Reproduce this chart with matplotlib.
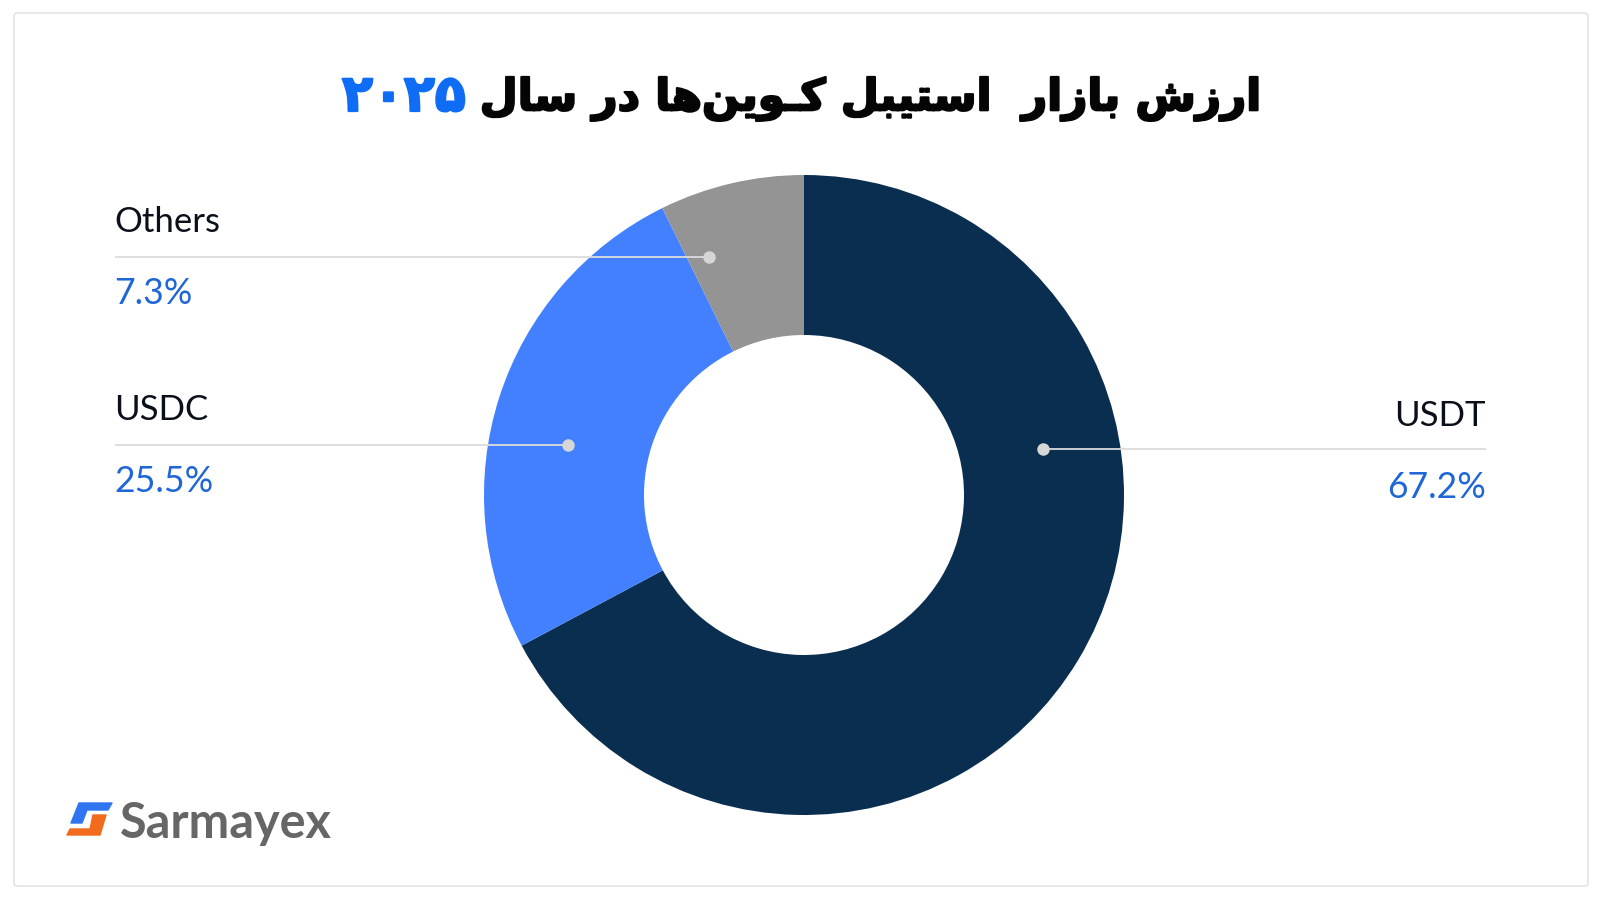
import matplotlib.pyplot as plt
import matplotlib.patheffects as pe
from matplotlib.patches import FancyBboxPatch, Polygon

#chart data
labels = ['USDT', 'USDC', 'Others']
shares = [67.2, 25.5, 7.3]
colors = ['#0A2E4F', '#4280FF', '#949494']
pct_text = ['67.2%', '25.5%', '7.3%']
title_text = 'ارزش بازار  استیبل کـوین\u200cها در سال'
title_year = '۲۰۲۵'

#arabic letter forms: isolated, final, initial, medial
#matplotlib does no shaping so the forms have to be picked by hand
forms = {
    'ا': (0xFE8D, 0xFE8E), 'د': (0xFEA9, 0xFEAA), 'ر': (0xFEAD, 0xFEAE),
    'ز': (0xFEAF, 0xFEB0), 'و': (0xFEED, 0xFEEE),
    'ب': (0xFE8F, 0xFE90, 0xFE91, 0xFE92), 'ت': (0xFE95, 0xFE96, 0xFE97, 0xFE98),
    'س': (0xFEB1, 0xFEB2, 0xFEB3, 0xFEB4), 'ش': (0xFEB5, 0xFEB6, 0xFEB7, 0xFEB8),
    'ل': (0xFEDD, 0xFEDE, 0xFEDF, 0xFEE0), 'ن': (0xFEE5, 0xFEE6, 0xFEE7, 0xFEE8),
    'ه': (0xFEE9, 0xFEEA, 0xFEEB, 0xFEEC), 'ک': (0xFB8E, 0xFB8F, 0xFB90, 0xFB91),
    'ی': (0xFBFC, 0xFBFD, 0xFBFE, 0xFBFF), 'ـ': (0x640, 0x640, 0x640, 0x640),
}


def shape(text):
    out = []
    for i, ch in enumerate(text):
        if ch not in forms:
            if ch == ' ':
                out.append(ch)
            continue
        prev = text[i - 1] if i > 0 else ' '
        nxt = text[i + 1] if i + 1 < len(text) else ' '
        joins_prev = prev in forms and len(forms[prev]) == 4
        joins_next = nxt in forms and len(forms[ch]) == 4
        if joins_prev and joins_next:
            idx = 3
        elif joins_next:
            idx = 2
        elif joins_prev:
            idx = 1
        else:
            idx = 0
        out.append(chr(forms[ch][idx]))
    return ''.join(reversed(out))


plt.rcParams['font.family'] = ['Lato', 'DejaVu Sans']
fig = plt.figure(figsize=(16, 9), dpi=100, facecolor='white')

#overlay in pixel coords for frame, leaders and text
over = fig.add_axes([0, 0, 1, 1], zorder=2)
over.set_xlim(0, 1600)
over.set_ylim(900, 0)
over.axis('off')

#donut
cx, cy, radius = 804, 495, 320
ax = fig.add_axes([(cx - radius) / 1600, (900 - cy - radius) / 900, 2 * radius / 1600, 2 * radius / 900], zorder=1)
ax.pie(shares, colors=colors, startangle=90, counterclock=False, radius=1,
       wedgeprops={'width': 0.5, 'linewidth': 0})
ax.set_xlim(-1, 1)
ax.set_ylim(-1, 1)

#frame
over.add_patch(FancyBboxPatch((14, 13), 1574, 873, boxstyle='round,pad=0,rounding_size=3',
                              fill=False, edgecolor='#e4e4e4', linewidth=1.2))

#title, stroke makes it as heavy as the original font
t1 = over.text(1262, 99, shape(title_text), ha='right', va='center', fontsize=31.5, fontweight='bold',
               family='DejaVu Sans', color='#050505')
t1.set_path_effects([pe.withStroke(linewidth=1.6, foreground='#050505')])
t2 = over.text(342, 97, title_year, ha='left', va='center', fontsize=36.5, fontweight='bold',
               family='DejaVu Sans', color='#0F6CF5')
t2.set_path_effects([pe.withStroke(linewidth=1.6, foreground='#0F6CF5')])

#leaders: label y, line y, percent y, line start, line end, text x
leaders = [
    (416, 449, 488, 1486, 1043, 1486, 'right'),
    (410, 445, 482, 115, 568, 114, 'left'),
    (222, 257, 294, 115, 709, 114, 'left'),
]
for name, pct, (ly, ln, py, x0, x1, tx, ha) in zip(labels, pct_text, leaders):
    over.plot([x0, x1], [ln, ln], color='#dcdcdc', lw=1.3, solid_capstyle='butt')
    over.plot([x1], [ln], 'o', color='#d6d6d6', ms=9, mew=0)
    over.text(tx, ly, name, ha=ha, va='center', fontsize=25, color='#0B0F1A')
    over.text(tx, py, pct, ha=ha, va='center', fontsize=25.7, color='#1F66D6')

#logo
over.add_patch(Polygon([(79, 803), (112, 803), (108, 810), (87, 810), (82, 823), (71, 823)],
                       closed=True, facecolor='#2F74F0', edgecolor='#2F74F0', lw=1, joinstyle='round'))
over.add_patch(Polygon([(93, 815), (106, 815), (100, 835), (67, 835), (70, 829), (90, 829)],
                       closed=True, facecolor='#F26A1B', edgecolor='#F26A1B', lw=1, joinstyle='round'))
over.text(120, 823, 'Sarmayex', ha='left', va='center', fontsize=35, fontweight='bold',
          color='#666666', family='Lato')

fig.savefig('out.png', dpi=100, facecolor='white')
